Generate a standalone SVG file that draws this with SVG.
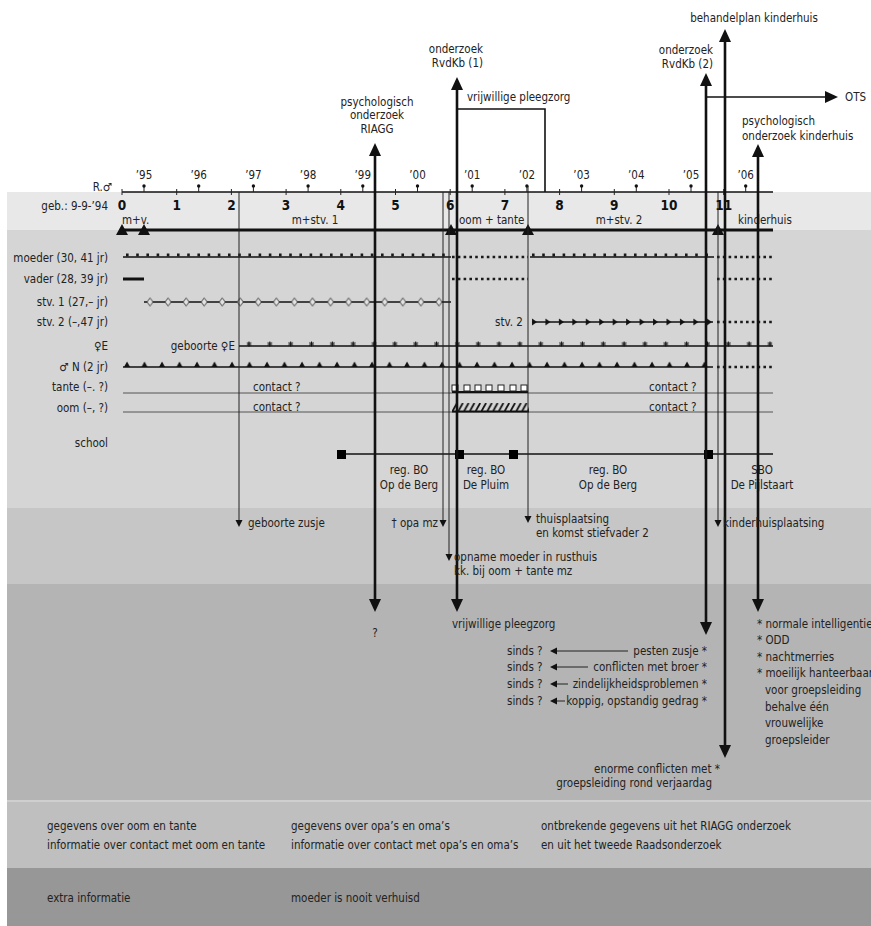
<svg xmlns="http://www.w3.org/2000/svg" width="871" height="926" viewBox="0 0 871 926">
<style>
text{font-family:"DejaVu Sans Condensed","DejaVu Sans","Liberation Sans",sans-serif;font-size:11.5px;fill:#222}
.age{font-weight:bold;font-size:13.5px;text-anchor:middle;fill:#111}
.yr{text-anchor:middle;font-size:11.5px}
.r{text-anchor:end}
.m{text-anchor:middle}
.thin{stroke:#222;stroke-width:1;fill:none}
.row{stroke:#555;stroke-width:1;fill:none}
.thick{stroke:#111;stroke-width:2.6;fill:none}
.med{stroke:#111;stroke-width:1.6;fill:none}
.dot{stroke:#1a1a1a;stroke-width:2.6;stroke-dasharray:2.6 3.2;fill:none}
.marks{stroke:#1a1a1a;stroke-width:3;stroke-dasharray:2.6 7.6;fill:none}
.tri{fill:#111}
.big{marker-end:url(#ah);marker-start:url(#ah)}
.sm{marker-end:url(#as)}
</style>
<defs>
<marker id="ah" markerUnits="userSpaceOnUse" markerWidth="14" markerHeight="14" viewBox="0 -7 14 14" refX="1" refY="0" orient="auto-start-reverse"><path d="M0,-6 L13,0 L0,6 Z" fill="#111"/></marker>
<marker id="as" markerUnits="userSpaceOnUse" markerWidth="9" markerHeight="9" viewBox="0 -4.5 9 9" refX="1" refY="0" orient="auto-start-reverse"><path d="M0,-3.5 L7,0 L0,3.5 Z" fill="#111"/></marker>
<pattern id="pN" patternUnits="userSpaceOnUse" x="124" y="361" width="17.5" height="6"><path d="M0,6 L3,0.5 L6,6 Z" fill="#111"/></pattern>
<pattern id="pE" patternUnits="userSpaceOnUse" x="246.5" y="341.5" width="20.84" height="5"><path d="M2.5,0 V5 M0.3,1.2 L4.7,3.8 M0.3,3.8 L4.7,1.2" stroke="#111" stroke-width="1.1"/></pattern>
<pattern id="pD" patternUnits="userSpaceOnUse" x="146" y="297.5" width="18.06" height="9"><path d="M4,0.5 L7,4.5 L4,8.5 L1,4.5 Z" fill="#e2e2e2" stroke="#333" stroke-width="0.9"/></pattern>
<pattern id="pS" patternUnits="userSpaceOnUse" x="531" y="318" width="13.45" height="8"><path d="M1,0.5 L6,4 L1,7.5 Z" fill="#111"/></pattern>
<pattern id="pH" patternUnits="userSpaceOnUse" x="452" y="403" width="5.8" height="9"><path d="M0,9 L5,0" stroke="#111" stroke-width="1.8"/></pattern>
</defs>

<g id="bands">
<rect x="0" y="0" width="871" height="926" fill="#fff"/>
<rect x="7" y="192" width="864" height="38" fill="#e8e8e8"/>
<rect x="7" y="230" width="864" height="278" fill="#d5d5d5"/>
<rect x="7" y="508" width="864" height="76" fill="#c6c6c6"/>
<rect x="7" y="584" width="864" height="216" fill="#b4b4b4"/>
<rect x="7" y="800" width="864" height="68" fill="#bfbfbf"/>
<rect x="7" y="800" width="864" height="2" fill="#cfcfcf"/>
<rect x="7" y="868" width="864" height="58" fill="#979797"/>
</g>

<g id="axis">
<line x1="122" y1="192" x2="773" y2="192" class="med" stroke-width="1.3"/>
<path class="thin" d="M122,189V195 M176.7,189V195 M231.4,189V195 M286.1,189V195 M340.8,189V195 M395.5,189V195 M450.2,189V195 M504.9,189V195 M559.6,189V195 M614.3,189V195 M669,189V195 M723.7,189V195"/>
<path class="thin" stroke-width="1.2" d="M144,186V192 M198.7,186V192 M253.4,186V192 M308.1,186V192 M362.8,186V192 M417.5,186V192 M472.2,186V192 M526.9,186V192 M581.6,186V192 M636.3,186V192 M691,186V192 M745.7,186V192"/>
<g fill="#111">
<circle cx="144" cy="186" r="1.7"/><circle cx="198.7" cy="186" r="1.7"/><circle cx="253.4" cy="186" r="1.7"/><circle cx="308.1" cy="186" r="1.7"/><circle cx="362.8" cy="186" r="1.7"/><circle cx="417.5" cy="186" r="1.7"/><circle cx="472.2" cy="186" r="1.7"/><circle cx="526.9" cy="186" r="1.7"/><circle cx="581.6" cy="186" r="1.7"/><circle cx="636.3" cy="186" r="1.7"/><circle cx="691" cy="186" r="1.7"/><circle cx="745.7" cy="186" r="1.7"/>
</g>
<text class="yr" x="144" y="179">’95</text><text class="yr" x="198.7" y="179">’96</text><text class="yr" x="253.4" y="179">’97</text><text class="yr" x="308.1" y="179">’98</text><text class="yr" x="362.8" y="179">’99</text><text class="yr" x="417.5" y="179">’00</text><text class="yr" x="472.2" y="179">’01</text><text class="yr" x="526.9" y="179">’02</text><text class="yr" x="581.6" y="179">’03</text><text class="yr" x="636.3" y="179">’04</text><text class="yr" x="691" y="179">’05</text><text class="yr" x="745.7" y="179">’06</text>
<text class="age" x="122" y="210">0</text><text class="age" x="176.7" y="210">1</text><text class="age" x="231.4" y="210">2</text><text class="age" x="286.1" y="210">3</text><text class="age" x="340.8" y="210">4</text><text class="age" x="395.5" y="210">5</text><text class="age" x="450.2" y="210">6</text><text class="age" x="504.9" y="210">7</text><text class="age" x="559.6" y="210">8</text><text class="age" x="614.3" y="210">9</text><text class="age" x="669" y="210">10</text><text class="age" x="723.7" y="210">11</text>
<text class="r" x="112" y="191">R.♂</text>
<text class="r" x="108" y="210">geb.: 9-9-’94</text>
</g>

<g id="residence">
<line x1="122" y1="230" x2="773" y2="230" stroke="#111" stroke-width="3"/>
<path class="tri" d="M122,224 L128,235 L116,235 Z M144,224 L150,235 L138,235 Z M451,224 L457,235 L445,235 Z M528,224 L534,235 L522,235 Z M718,224 L724,235 L712,235 Z"/>
<text x="122" y="224">m+v.</text>
<text class="m" x="315" y="224">m+stv. 1</text>
<text x="459" y="224">oom + tante</text>
<text class="m" x="619" y="224">m+stv. 2</text>
<text x="738" y="224">kinderhuis</text>
</g>

<g id="labels">
<text class="r" x="108" y="262">moeder (30, 41 jr)</text>
<text class="r" x="108" y="283">vader (28, 39 jr)</text>
<text class="r" x="108" y="306">stv. 1 (27,– jr)</text>
<text class="r" x="108" y="326">stv. 2 (–,47 jr)</text>
<text class="r" x="108" y="350">♀E</text>
<text class="r" x="108" y="371">♂ N (2 jr)</text>
<text class="r" x="108" y="391">tante (–. ?)</text>
<text class="r" x="108" y="412">oom (–, ?)</text>
<text class="r" x="108" y="447">school</text>
</g>

<g id="moeder">
<path class="med" d="M123,257H451 M530,257H714"/>
<path class="marks" d="M126,255H451 M532,255H714"/>
<path class="dot" d="M452,257H528 M717,257H773"/>
</g>
<g id="vader">
<line x1="123" y1="279" x2="144" y2="279" stroke="#111" stroke-width="3"/>
<path class="dot" d="M452,279H528 M717,279H773"/>
</g>
<g id="stv1">
<line x1="144" y1="302" x2="451" y2="302" class="med" stroke-width="1.4"/>
<rect x="146" y="297.5" width="301" height="9" fill="url(#pD)"/>
</g>
<g id="stv2">
<text x="495" y="326">stv. 2</text>
<line x1="532" y1="322" x2="713" y2="322" class="med" stroke-width="1.6"/>
<rect x="531" y="318" width="181" height="8" fill="url(#pS)"/>
<path class="dot" d="M717,322H773"/>
</g>
<g id="zusE">
<text class="r" x="235" y="350">geboorte ♀E</text>
<line x1="239" y1="346" x2="773" y2="346" class="med" stroke-width="1.6"/>
<rect x="246.5" y="341.5" width="526" height="5" fill="url(#pE)"/>
</g>
<g id="jongenN">
<line x1="123" y1="367" x2="713" y2="367" class="med" stroke-width="2"/>
<rect x="124" y="361" width="585" height="6" fill="url(#pN)"/>
<path class="dot" d="M717,367H773"/>
</g>
<g id="tante">
<line x1="123" y1="393" x2="773" y2="393" class="row"/>
<text x="253" y="391">contact ?</text>
<text x="649" y="391">contact ?</text>
<line x1="452" y1="392" x2="528" y2="392" stroke="#111" stroke-width="1.8"/>
<g fill="#fff" stroke="#222" stroke-width="1">
<rect x="452" y="385" width="6" height="6"/><rect x="464" y="385" width="6" height="6"/><rect x="475" y="385" width="6" height="6"/><rect x="486" y="385" width="6" height="6"/><rect x="498" y="385" width="6" height="6"/><rect x="510" y="385" width="6" height="6"/><rect x="521" y="385" width="6" height="6"/>
</g>
</g>
<g id="oom">
<line x1="123" y1="412" x2="773" y2="412" class="row"/>
<text x="253" y="411">contact ?</text>
<text x="649" y="411">contact ?</text>
<rect x="452" y="403" width="77" height="9" fill="url(#pH)"/>
<line x1="452" y1="411.5" x2="529" y2="411.5" stroke="#111" stroke-width="1.8"/>
</g>
<g id="school">
<line x1="337" y1="454" x2="773" y2="454" class="med" stroke-width="1.6"/>
<g fill="#000"><rect x="337" y="450" width="9" height="9"/><rect x="455" y="450" width="9" height="9"/><rect x="509" y="450" width="9" height="9"/><rect x="704" y="450" width="9" height="9"/></g>
<text class="m" x="409" y="474">reg. BO</text><text class="m" x="409" y="489">Op de Berg</text>
<text class="m" x="486" y="474">reg. BO</text><text class="m" x="486" y="489">De Pluim</text>
<text class="m" x="608" y="474">reg. BO</text><text class="m" x="608" y="489">Op de Berg</text>
<text class="m" x="762" y="474">SBO</text><text class="m" x="762" y="489">De Pijlstaart</text>
</g>

<g id="connectors">
<line class="thin sm" x1="239" y1="192" x2="239" y2="521"/>
<line class="thin sm" x1="443" y1="192" x2="443" y2="521"/>
<line class="thin sm" x1="449" y1="192" x2="449" y2="555"/>
<line class="thin sm" x1="528" y1="186" x2="528" y2="517"/>
<line class="thin sm" x1="718" y1="192" x2="718" y2="521"/>
<line class="thick big" x1="375" y1="155" x2="375" y2="600"/>
<line class="thick big" x1="457" y1="89" x2="457" y2="600"/>
<polyline class="med" stroke-width="2" points="457,109 545,109 545,192"/>
<line class="thick big" x1="706" y1="85" x2="706" y2="623"/>
<line class="med" stroke-width="2" x1="706" y1="97" x2="826" y2="97" marker-end="url(#ah)"/>
<line class="thick big" x1="725" y1="41" x2="725" y2="746"/>
<line class="thick big" x1="758" y1="156" x2="758" y2="600"/>
</g>

<g id="top-labels">
<text class="m" x="754" y="22">behandelplan kinderhuis</text>
<text class="r" x="483" y="53">onderzoek</text><text class="r" x="483" y="67">RvdKb (1)</text>
<text class="r" x="713" y="54">onderzoek</text><text class="r" x="713" y="68">RvdKb (2)</text>
<text x="467" y="101">vrijwillige pleegzorg</text>
<text x="845" y="101">OTS</text>
<text class="m" x="377" y="106">psychologisch</text><text class="m" x="377" y="119">onderzoek</text><text class="m" x="377" y="133">RIAGG</text>
<text x="742" y="125">psychologisch</text><text x="742" y="140">onderzoek kinderhuis</text>
</g>

<g id="events">
<text x="248" y="527">geboorte zusje</text>
<text class="r" x="438" y="527">† opa mz</text>
<text x="536" y="523">thuisplaatsing</text><text x="536" y="537">en komst stiefvader 2</text>
<text x="454" y="561">opname moeder in rusthuis</text><text x="454" y="575">kk. bij oom + tante mz</text>
<text x="723" y="527">kinderhuisplaatsing</text>
</g>

<g id="outcomes">
<text class="m" x="375" y="637">?</text>
<text x="452" y="628">vrijwillige pleegzorg</text>
<text x="507" y="655">sinds ?</text><text x="507" y="671">sinds ?</text><text x="507" y="688">sinds ?</text><text x="507" y="705">sinds ?</text>
<g class="thin">
<line x1="628" y1="651" x2="556" y2="651" class="sm"/>
<line x1="588" y1="667" x2="556" y2="667" class="sm"/>
<line x1="568" y1="684" x2="556" y2="684" class="sm"/>
<line x1="565" y1="701" x2="556" y2="701" class="sm"/>
</g>
<text class="r" x="707" y="655">pesten zusje *</text>
<text class="r" x="707" y="671">conflicten met broer *</text>
<text class="r" x="707" y="688">zindelijkheidsproblemen *</text>
<text class="r" x="707" y="705">koppig, opstandig gedrag *</text>
<text x="757" y="628">* normale intelligentie</text>
<text x="757" y="644">* ODD</text>
<text x="757" y="661">* nachtmerries</text>
<text x="757" y="677">* moeilijk hanteerbaar</text>
<text x="765" y="694">voor groepsleiding</text>
<text x="765" y="711">behalve één</text>
<text x="765" y="727">vrouwelijke</text>
<text x="765" y="744">groepsleider</text>
<text class="r" x="720" y="773">enorme conflicten met *</text>
<text class="r" x="712" y="787">groepsleiding rond verjaardag</text>
</g>

<g id="legend">
<text x="47" y="830">gegevens over oom en tante</text>
<text x="47" y="849">informatie over contact met oom en tante</text>
<text x="291" y="830">gegevens over opa’s en oma’s</text>
<text x="291" y="849">informatie over contact met opa’s en oma’s</text>
<text x="541" y="830">ontbrekende gegevens uit het RIAGG onderzoek</text>
<text x="541" y="849">en uit het tweede Raadsonderzoek</text>
<text x="47" y="902">extra informatie</text>
<text x="291" y="902">moeder is nooit verhuisd</text>
</g>
</svg>
